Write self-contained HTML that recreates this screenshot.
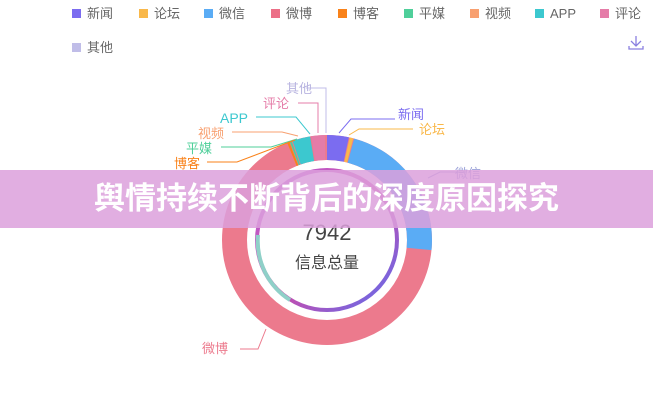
<!DOCTYPE html>
<html><head><meta charset="utf-8"><style>
body{margin:0;width:653px;height:400px;background:#fff;overflow:hidden;font-family:"Liberation Sans","Noto Sans CJK SC",sans-serif;position:relative}
svg{position:absolute;left:0;top:0}
.banner{position:absolute;left:0;top:170px;width:653px;height:58px;background:rgba(220,160,220,0.85);color:#fff;font-weight:bold;font-size:31px;line-height:58px;text-align:center;font-family:"Liberation Sans","Noto Sans CJK SC",sans-serif}
</style></head><body>
<svg width="653" height="400" viewBox="0 0 653 400" font-family="Liberation Sans, Noto Sans CJK SC, sans-serif">
<g font-size="13" fill="#666">
<rect x="72" y="9" width="9" height="9" fill="#7b6cf0"/><text x="87" y="18">新闻</text>
<rect x="139" y="9" width="9" height="9" fill="#f9b84a"/><text x="154" y="18">论坛</text>
<rect x="204" y="9" width="9" height="9" fill="#5aacf5"/><text x="219" y="18">微信</text>
<rect x="271" y="9" width="9" height="9" fill="#ec6f87"/><text x="286" y="18">微博</text>
<rect x="338" y="9" width="9" height="9" fill="#f9821a"/><text x="353" y="18">博客</text>
<rect x="404" y="9" width="9" height="9" fill="#4fcf9a"/><text x="419" y="18">平媒</text>
<rect x="470" y="9" width="9" height="9" fill="#f8a070"/><text x="485" y="18">视频</text>
<rect x="535" y="9" width="9" height="9" fill="#3cc8cf"/><text x="550" y="18">APP</text>
<rect x="600" y="9" width="9" height="9" fill="#e57ca8"/><text x="615" y="18">评论</text>
<rect x="72" y="43" width="9" height="9" fill="#c0bde8"/><text x="87" y="52">其他</text>
</g>
<path d="M636 36v10M631 41l5 5 5-5M629 46v3h14v-3" stroke="#8a7fe0" stroke-width="1.3" fill="none"/>
<g transform="rotate(-90 327 240)" fill="none" stroke-width="25">
<circle cx="327" cy="240" r="92.5" stroke="#ec7a8d"/>
<circle cx="327" cy="240" r="92.5" stroke="#7b6cf0" stroke-dasharray="19.4 600"/>
<circle cx="327" cy="240" r="92.5" stroke="#f9b84a" stroke-dasharray="3.2 600" stroke-dashoffset="-20.2"/>
<circle cx="327" cy="240" r="92.5" stroke="#5aacf5" stroke-dasharray="130 600" stroke-dashoffset="-24.2"/>
<circle cx="327" cy="240" r="92.5" stroke="#f9821a" stroke-dasharray="2 600" stroke-dashoffset="-545"/>
<circle cx="327" cy="240" r="92.5" stroke="#4fcf9a" stroke-dasharray="1.6 600" stroke-dashoffset="-547.5"/>
<circle cx="327" cy="240" r="92.5" stroke="#3cc8cf" stroke-dasharray="16 600" stroke-dashoffset="-550"/>
<circle cx="327" cy="240" r="92.5" stroke="#e57ca8" stroke-dasharray="12 600" stroke-dashoffset="-567"/>
</g>
<defs><linearGradient id="g" x1="0" y1="0" x2="1" y2="1"><stop offset="0" stop-color="#b464d8"/><stop offset="0.5" stop-color="#d04aa8"/><stop offset="1" stop-color="#5a6ef0"/></linearGradient></defs>
<circle cx="327" cy="240" r="70" fill="none" stroke="url(#g)" stroke-width="4"/>
<path d="M258 235 A70 70 0 0 0 290 300" fill="none" stroke="#8fd0c8" stroke-width="4"/>
<text x="327" y="240" font-size="22" fill="#444" text-anchor="middle">7942</text>
<text x="327" y="268" font-size="16" fill="#444" text-anchor="middle">信息总量</text>
<g font-size="13" fill="none" stroke-width="1">
<path d="M306 88h20v45" stroke="#c0bde8"/><path d="M298 103h20v30" stroke="#e57ca8"/>
<path d="M256 117h40l14 17" stroke="#3cc8cf"/><path d="M232 132h50l16 4" stroke="#f8a070"/>
<path d="M221 147h50l26 -8" stroke="#4fcf9a"/><path d="M207 162h30l58 -22" stroke="#f9821a"/>
<path d="M339 133l12-14h44" stroke="#7b6cf0"/><path d="M349 135l10-6h54" stroke="#f9b84a"/>
<path d="M428 178l12-6h26" stroke="#9aa0d8"/><path d="M240 349h18l8-20" stroke="#ec7a8d"/>
</g>
<g font-size="13">
<text x="286" y="93" fill="#b8b4e0">其他</text><text x="263" y="108" fill="#e57ca8">评论</text>
<text x="220" y="123" fill="#3cc8cf" font-size="14">APP</text><text x="198" y="138" fill="#f8a070">视频</text>
<text x="186" y="153" fill="#4fcf9a">平媒</text><text x="174" y="168" fill="#f9821a">博客</text>
<text x="398" y="119" fill="#7b6cf0">新闻</text><text x="419" y="134" fill="#f9b84a">论坛</text>
<text x="455" y="178" fill="#9aa0d8">微信</text><text x="202" y="353" fill="#ec7a8d">微博</text>
</g>
</svg>
<div class="banner">舆情持续不断背后的深度原因探究</div>
</body></html>
